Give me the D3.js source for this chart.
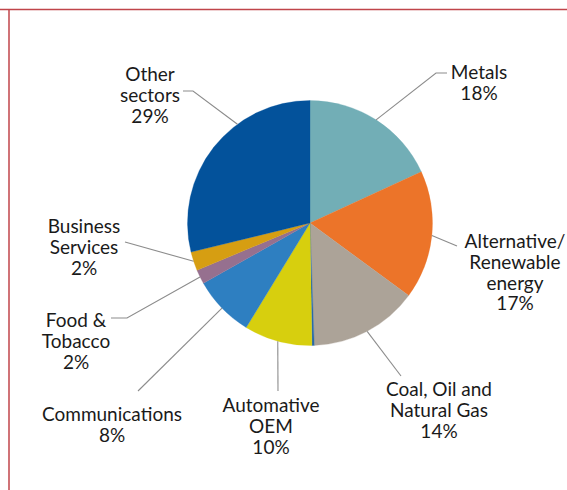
<!DOCTYPE html>
<html>
<head>
<meta charset="utf-8">
<script src="https://cdn.jsdelivr.net/npm/d3@7"></script>
<style>
  body { margin: 0; background: #fff; }
  svg text { font-family: Lato, "Open Sans", sans-serif; fill: #1a1a1a; }
</style>
</head>
<body>
<div id="chart"></div>
<script>
// sectors, clockwise from 12 o'clock
const sectors = ["Metals", "Alternative/Renewable energy", "Coal, Oil and Natural Gas", "Unlabelled",
                 "Automative OEM", "Communications", "Food & Tobacco", "Business Services", "Other sectors"];
const shares = [18.2, 17.0, 14.4, 0.3, 9.0, 8.1, 1.9, 2.5, 28.9];   // slice sizes
const shownPct = [18, 17, 14, null, 10, 8, 2, 2, 29];                // percentages printed on the labels
const labelLines = [["Metals"], ["Alternative/", "Renewable", "energy"], ["Coal, Oil and", "Natural Gas"], null,
                    ["Automative", "OEM"], ["Communications"], ["Food &", "Tobacco"], ["Business", "Services"], ["Other", "sectors"]];
const colors = ["#72aeb6", "#ec7429", "#aca398", "#2a6aa8", "#d7cf0e", "#2e7fc1", "#96708f", "#d69e12", "#03529b"];

// label layout: text centre x, first baseline y, leader start, optional elbow,
// optional point along the slice (0..1) where the leader meets the rim
const labelPos = [
  { x: 479, y: 79,  start: [447, 73],  elbow: [436, 73] },
  { x: 515, y: 248, start: [457, 246], elbow: null },
  { x: 439, y: 396, start: [401, 376], elbow: null },
  null,
  { x: 271, y: 412, start: [278, 391], elbow: null },
  { x: 112, y: 421, start: [138, 391], elbow: null },
  { x: 76,  y: 327, start: [111, 318], elbow: [127, 318] },
  { x: 84,  y: 233, start: [125, 242], elbow: null },
  { x: 150, y: 81,  start: [183, 91],  elbow: [193, 91], at: 0.65 }
];

const width = 567, height = 490;
const cx = 310, cy = 223, radius = 122.5;
const lineH = 20.8;

const svg = d3.select("#chart").append("svg")
    .attr("width", width)
    .attr("height", height);

// red frame, top and left
svg.append("line")
    .attr("x1", 0).attr("x2", width).attr("y1", 9.5).attr("y2", 9.5)
    .style("stroke", "#c0454a").style("stroke-width", 1.5);
svg.append("line")
    .attr("x1", 9).attr("x2", 9).attr("y1", 9).attr("y2", height)
    .style("stroke", "#c0454a").style("stroke-width", 1.5);

const data = sectors.map((s, i) => ({ sector: s, value: shares[i], i: i }));

const pie = d3.pie().sort(null).value(d => d.value);
const arc = d3.arc().innerRadius(0).outerRadius(radius);

const g = svg.append("g").attr("transform", `translate(${cx},${cy})`);
const arcs = pie(data);

g.selectAll(".slice")
    .data(arcs)
  .enter().append("path")
    .attr("class", "slice")
    .attr("d", arc)
    .style("fill", d => colors[d.data.i])
    .style("stroke", d => colors[d.data.i])
    .style("stroke-width", 0.3);

// leader lines
arcs.forEach(a => {
    const p = labelPos[a.data.i];
    if (!p) return;
    const f = p.at !== undefined ? p.at : 0.5;
    const ang = a.startAngle + (a.endAngle - a.startAngle) * f;
    const e = [cx + radius * Math.sin(ang), cy - radius * Math.cos(ang)];
    const pts = [p.start];
    if (p.elbow) pts.push(p.elbow);
    pts.push(e);
    svg.append("path")
        .attr("d", d3.line()(pts))
        .style("fill", "none")
        .style("stroke", "#8c8c8c")
        .style("stroke-width", 1.1);
});

// labels
arcs.forEach(a => {
    const i = a.data.i;
    const p = labelPos[i];
    if (!p) return;
    const lines = labelLines[i].concat([shownPct[i] + "%"]);
    const t = svg.append("text")
        .attr("text-anchor", "middle")
        .style("font-size", "19px");
    lines.forEach((l, k) => {
        t.append("tspan")
            .attr("x", p.x)
            .attr("y", p.y + k * lineH)
            .text(l);
    });
});
</script>
</body>
</html>
